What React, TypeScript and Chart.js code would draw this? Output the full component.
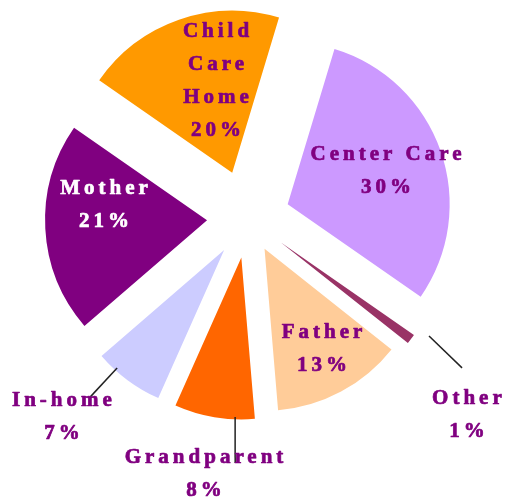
import React, { useEffect, useRef } from "react";
import { Chart, registerables } from "chart.js";

Chart.register(...registerables);

// ---- data ----
const categories = ["Center Care", "Other", "Father", "Grandparent", "In-home", "Mother", "Child Care Home"];
const percents = [30, 1, 13, 8, 7, 21, 20];
const labelLines = [
  ["Center Care"],
  ["Other"],
  ["Father"],
  ["Grandparent"],
  ["In-home"],
  ["Mother"],
  ["Child", "Care", "Home"],
];

// ---- styles ----
const sliceColors = ["#CC99FF", "#993366", "#FFCC99", "#FF6600", "#CCCCFF", "#800080", "#FF9900"];
const textColors = ["#800080", "#800080", "#800080", "#800080", "#800080", "#FFFFFF", "#800080"];
const explode = [42, 41, 35, 40, 40, 41, 48];
// label block centre: [distance from pie centre, angle clockwise from top in degrees]
const labelPlace = [
  [145.8, 71.2],
  [294.6, 132.0],
  [150.5, 150.5],
  [259.8, 189.75],
  [272.4, 223.1],
  [144.6, 275.2],
  [140.2, 346.8],
];
// leader lines: [angle1, r1, angle2, r2] (null = none)
const leaders: (number[] | null)[] = [
  null,
  [123.1, 216.1, 125.0, 261.3],
  null,
  [183.7, 199.4, 183.0, 245.3],
  [221.1, 199.1, 221.4, 238.8],
  null,
  null,
];
const LINE_HEIGHT = 33;
const FONT = 'bold 21px "Liberation Serif", "Times New Roman", serif';
const LETTER_SPACING = 4;

function polar(cx: number, cy: number, r: number, deg: number) {
  const a = (deg * Math.PI) / 180;
  return { x: cx + r * Math.sin(a), y: cy - r * Math.cos(a) };
}

const explodePlugin = {
  id: "explodeAndLabels",
  beforeDatasetDraw(chart: any, args: any) {
    const ctx = chart.ctx;
    const meta = args.meta;
    meta.data.forEach((arc: any, i: number) => {
      const d = explode[i] || 0;
      const mid = (arc.startAngle + arc.endAngle) / 2;
      ctx.save();
      ctx.translate(Math.cos(mid) * d, Math.sin(mid) * d);
      arc.draw(ctx, chart.chartArea);
      ctx.restore();
    });
    return false;
  },
  afterDatasetsDraw(chart: any) {
    const ctx = chart.ctx;
    const meta = chart.getDatasetMeta(0);
    const arc0 = meta.data[0];
    const cx = arc0.x;
    const cy = arc0.y;
    // leader lines
    ctx.save();
    ctx.strokeStyle = "#222222";
    ctx.lineWidth = 1.5;
    leaders.forEach((l) => {
      if (!l) return;
      const p1 = polar(cx, cy, l[1], l[0]);
      const p2 = polar(cx, cy, l[3], l[2]);
      ctx.beginPath();
      ctx.moveTo(p1.x, p1.y);
      ctx.lineTo(p2.x, p2.y);
      ctx.stroke();
    });
    ctx.restore();
    // labels
    ctx.save();
    ctx.font = FONT;
    (ctx as any).letterSpacing = LETTER_SPACING + "px";
    ctx.textAlign = "center";
    ctx.textBaseline = "middle";
    ctx.lineWidth = 0.7;
    ctx.lineJoin = "round";
    categories.forEach((_, i) => {
      const lines = [...labelLines[i], percents[i] + "%"];
      const [r, deg] = labelPlace[i];
      const p = polar(cx, cy, r, deg);
      ctx.fillStyle = textColors[i];
      ctx.strokeStyle = textColors[i];
      lines.forEach((t, k) => {
        const y = p.y + (k - (lines.length - 1) / 2) * LINE_HEIGHT;
        ctx.fillText(t, p.x + LETTER_SPACING / 2, y);
        ctx.strokeText(t, p.x + LETTER_SPACING / 2, y);
      });
    });
    ctx.restore();
  },
};

export default function App() {
  const ref = useRef<HTMLCanvasElement | null>(null);
  useEffect(() => {
    if (!ref.current) return;
    const chart = new Chart(ref.current, {
      type: "pie",
      data: {
        labels: categories,
        datasets: [
          {
            data: percents,
            backgroundColor: sliceColors,
            borderWidth: 0,
            offset: 0,
          },
        ],
      },
      options: {
        responsive: false,
        animation: false,
        rotation: 16.8,
        radius: 162,
        layout: { padding: { left: 0, right: 10, top: 0, bottom: 66 } },
        plugins: {
          legend: { display: false },
          tooltip: { enabled: false },
        },
      },
      plugins: [explodePlugin],
    });
    return () => chart.destroy();
  }, []);
  return (
    <div style={{ position: "absolute", left: 0, top: 0, width: 506, height: 502, background: "#fff" }}>
      <canvas ref={ref} width={506} height={502} style={{ display: "block" }} />
    </div>
  );
}
